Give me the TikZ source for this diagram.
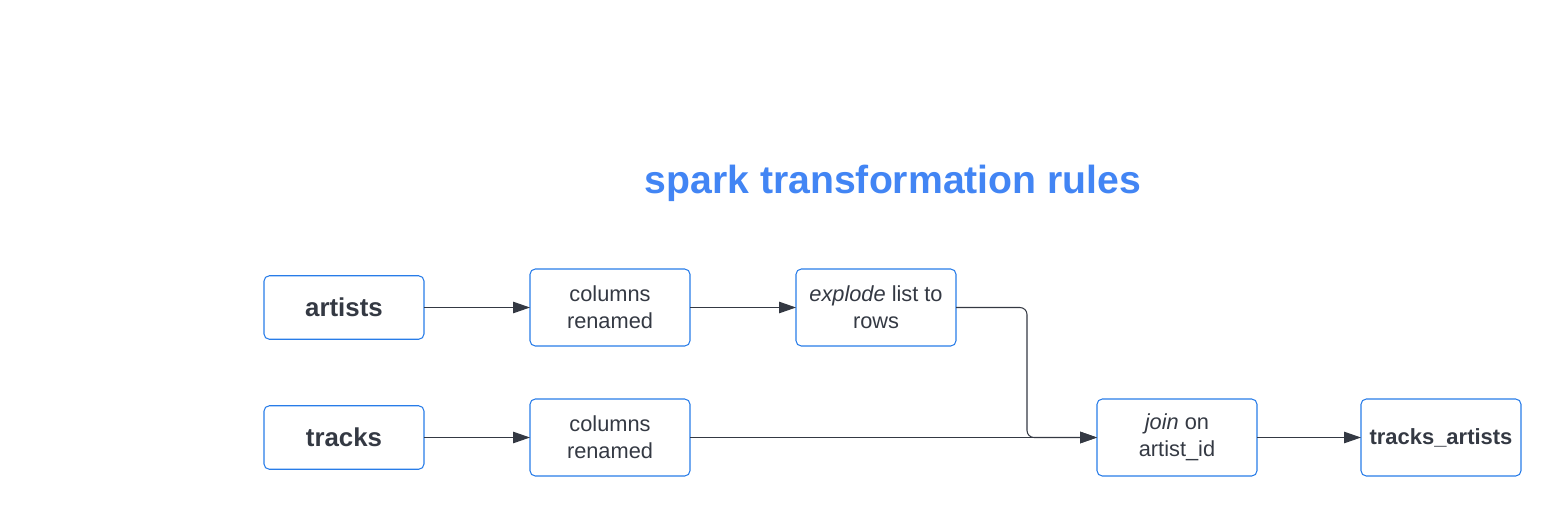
\documentclass[tikz,border=0pt]{standalone}
\usepackage{fontspec}
\setmainfont{Liberation Sans}
\usetikzlibrary{arrows.meta, positioning}
\definecolor{titleblue}{RGB}{66, 133, 244}
\definecolor{boxblue}{RGB}{40, 124, 232}
\definecolor{inkgray}{RGB}{52, 57, 67}
\tikzset{
  >=Triangle,
  flowarrow/.style={-{Triangle[length=3.4mm, width=2.3mm]}, line width=0.6pt, inkgray},
  stepbox/.style={draw=boxblue, line width=0.6pt, rounded corners=3pt, minimum width=3.2cm, minimum height=1.54cm, align=center, text=inkgray, inner sep=2pt, outer sep=0pt, font=\fontsize{12.4}{15.3}\selectfont},
  sourcebox/.style={stepbox, minimum height=1.27cm, font=\fontsize{14.7}{17}\selectfont\bfseries}
}
\begin{document}
\begin{tikzpicture}
    \useasboundingbox (0,0) rectangle (31.22,-10.32);
    \node[text=titleblue, font=\fontsize{22.3}{26}\selectfont\bfseries] (title) at (17.86,-3.66) {spark transformation rules};
    % upper row
    \node[sourcebox] (artists) at (6.88,-6.15) {artists};
    \node[stepbox, right=2.12cm of artists] (colA) {columns\\renamed};
    \node[stepbox, right=2.12cm of colA] (explode) {\textit{explode} list to\\rows};
    % lower row
    \node[sourcebox] (tracks) at (6.88,-8.75) {tracks};
    \node[stepbox, right=2.12cm of tracks] (colB) {columns\\renamed};
    \node[stepbox, right=8.14cm of colB] (join) {\textit{join} on\\artist\_id};
    \node[stepbox, right=2.08cm of join, font=\fontsize{12.5}{15}\selectfont\bfseries] (result) {tracks\_artists};
    \coordinate[right=1.42cm of explode.east] (bend);
    \draw[flowarrow] (artists) -- (colA);
    \draw[flowarrow] (colA) -- (explode);
    \draw[flowarrow] (tracks) -- (colB);
    \draw[flowarrow, line width=1pt] (colB) -- (join);
    \draw[flowarrow, rounded corners=4pt] (explode.east) -- (bend) |- (join.west);
    \draw[flowarrow] (join) -- (result);
\end{tikzpicture}
\end{document}
